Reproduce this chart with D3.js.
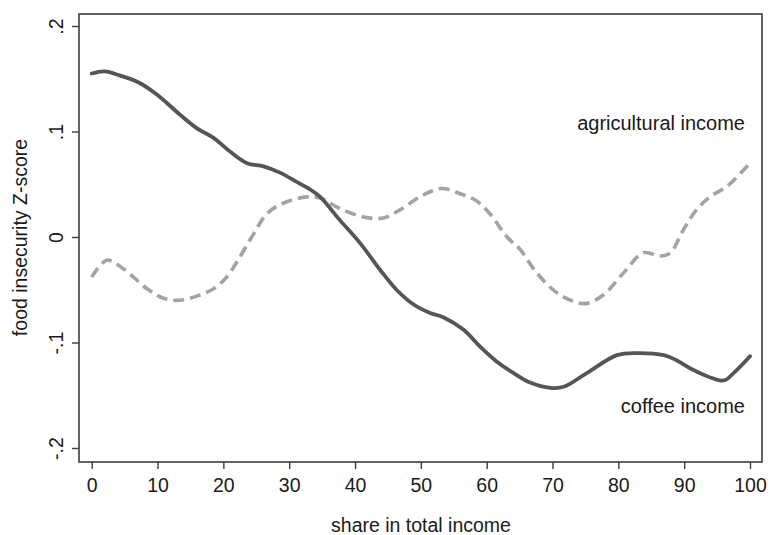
<!DOCTYPE html>
<html>
<head>
<meta charset="utf-8">
<script src="https://cdn.jsdelivr.net/npm/d3@7"></script>
<style>
  html, body { margin: 0; padding: 0; background: #fff; }
  svg { display: block; }
  text { font-family: "Liberation Sans", Arial, sans-serif; fill: #1a1a1a; }
</style>
</head>
<body>
<svg id="chart" width="771" height="535"></svg>
<script>
// Share of total income (%) on the x axis
const coffeeShare = [0, 2, 4.3, 7.3, 9.9, 13.4, 16, 18.5, 21, 23.6, 26.1, 28.6, 31.2, 33.2, 34.7, 37.7, 40.8, 43.8, 46.3, 48.9, 51.4, 53.4, 56.5, 59, 61.5, 64.1, 66.6, 69.7, 71.7, 75.2, 79.8, 82.8, 86.9, 88.9, 91.4, 96, 97.5, 100];
const coffeeZ = [0.155, 0.157, 0.153, 0.146, 0.135, 0.116, 0.103, 0.094, 0.081, 0.070, 0.067, 0.061, 0.052, 0.045, 0.038, 0.016, -0.006, -0.031, -0.050, -0.064, -0.072, -0.076, -0.088, -0.104, -0.118, -0.129, -0.138, -0.143, -0.142, -0.129, -0.112, -0.110, -0.112, -0.117, -0.126, -0.136, -0.129, -0.113];

const agriShare = [0, 2.3, 4.8, 8.4, 10.9, 13.4, 16, 18.5, 20.5, 22.5, 24.6, 26.6, 29.1, 32.7, 34.7, 37.7, 41.3, 44.3, 46.9, 50.4, 53.2, 56, 58.5, 60.5, 63.1, 65.1, 67.6, 70.7, 73.2, 75.2, 77.7, 80.8, 83.8, 86.4, 87.9, 89.9, 91.9, 93.9, 96.5, 100];
const agriZ = [-0.038, -0.022, -0.030, -0.049, -0.058, -0.060, -0.056, -0.049, -0.038, -0.019, 0.003, 0.022, 0.032, 0.038, 0.037, 0.027, 0.019, 0.018, 0.026, 0.040, 0.046, 0.041, 0.034, 0.022, 0.000, -0.012, -0.034, -0.053, -0.061, -0.063, -0.055, -0.034, -0.015, -0.018, -0.015, 0.007, 0.026, 0.038, 0.048, 0.070];

const xTicks = [0, 10, 20, 30, 40, 50, 60, 70, 80, 90, 100];
const yTicks = [-0.2, -0.1, 0, 0.1, 0.2];
const yTickLabels = ["-.2", "-.1", "0", ".1", ".2"];

const svg = d3.select("#chart");

const x = d3.scaleLinear().domain([0, 100]).range([91.7, 750]);
const y = d3.scaleLinear().domain([-0.2, 0.2]).range([448, 26]);

// plot region box
const box = { left: 79, right: 762, top: 14, bottom: 462 };
svg.append("rect")
  .attr("x", box.left).attr("y", box.top)
  .attr("width", box.right - box.left).attr("height", box.bottom - box.top)
  .attr("fill", "none").attr("stroke", "#3c3c3c").attr("stroke-width", 1.6);

// x axis
const xAxis = d3.axisBottom(x).tickValues(xTicks).tickSize(7).tickPadding(9).tickFormat(d3.format("d"));
const gx = svg.append("g").attr("transform", `translate(0,${box.bottom})`).call(xAxis);
gx.select(".domain").remove();
gx.selectAll(".tick line").attr("stroke", "#3c3c3c").attr("stroke-width", 1.4);
gx.selectAll(".tick text").attr("font-size", 19.5).attr("fill", "#1a1a1a")
  .attr("font-family", "Liberation Sans, Arial, sans-serif");

// y axis with rotated labels
const yAxis = d3.axisLeft(y).tickValues(yTicks).tickSize(7).tickFormat((d, i) => yTickLabels[i]);
const gy = svg.append("g").attr("transform", `translate(${box.left},0)`).call(yAxis);
gy.select(".domain").remove();
gy.selectAll(".tick line").attr("stroke", "#3c3c3c").attr("stroke-width", 1.4);
gy.selectAll(".tick text")
  .attr("font-size", 19.5).attr("fill", "#1a1a1a")
  .attr("font-family", "Liberation Sans, Arial, sans-serif")
  .attr("x", null).attr("dy", null)
  .attr("text-anchor", "middle")
  .attr("transform", "translate(-16,0) rotate(-90)");

// axis titles
svg.append("text")
  .attr("x", 421).attr("y", 532)
  .attr("text-anchor", "middle").attr("font-size", 19.5)
  .text("share in total income");
svg.append("text")
  .attr("transform", "translate(27,237.5) rotate(-90)")
  .attr("text-anchor", "middle").attr("font-size", 19.5)
  .text("food insecurity Z-score");

const line = d3.line()
  .x(d => x(d[0]))
  .y(d => y(d[1]))
  .curve(d3.curveCatmullRom.alpha(0.5));

const agriData = agriShare.map((s, i) => [s, agriZ[i]]);
const coffeeData = coffeeShare.map((s, i) => [s, coffeeZ[i]]);

svg.append("path")
  .datum(agriData)
  .attr("d", line)
  .attr("fill", "none")
  .attr("stroke", "#a3a3a3")
  .attr("stroke-width", 3.6)
  .attr("stroke-dasharray", "11,6");

svg.append("path")
  .datum(coffeeData)
  .attr("d", line)
  .attr("fill", "none")
  .attr("stroke", "#555555")
  .attr("stroke-width", 3.8)
  .attr("stroke-linejoin", "round")
  .attr("stroke-linecap", "round");

// series labels
svg.append("text")
  .attr("x", 745).attr("y", 130)
  .attr("text-anchor", "end").attr("font-size", 20)
  .text("agricultural income");
svg.append("text")
  .attr("x", 745).attr("y", 413)
  .attr("text-anchor", "end").attr("font-size", 20)
  .text("coffee income");
</script>
</body>
</html>
